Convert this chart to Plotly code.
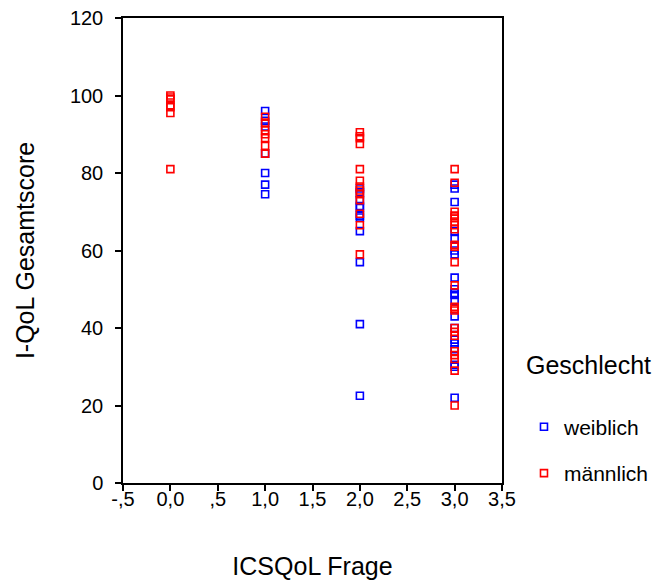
import plotly.graph_objects as go

# ---- data ----
x_ticks = [-0.5, 0, 0.5, 1, 1.5, 2, 2.5, 3, 3.5]
x_tick_labels = ["-,5", "0,0", ",5", "1,0", "1,5", "2,0", "2,5", "3,0", "3,5"]
y_ticks = [0, 20, 40, 60, 80, 100, 120]

# weiblich (blue), by ICSQoL Frage value
w_q1 = [96, 93.5, 92, 85, 80, 77, 74.5]
w_q2 = [76, 75, 73, 71.5, 71, 69, 68.5, 65, 57, 41, 22.5]
w_q3 = [77, 76, 72.5, 65, 63, 60, 59, 53, 50, 49, 48.5, 47, 43, 40, 37, 36,
        34.5, 30.5, 30, 22]

# männlich (red)
m_q0 = [100, 99.5, 99, 97.5, 97, 95.5, 81]
m_q1 = [94.5, 93, 91, 90, 89, 87, 85]
m_q2 = [90.5, 89.5, 89, 87.5, 81, 78, 76.5, 75.5, 74.5, 73, 69.5, 66.5, 59]
m_q3 = [81, 77.5, 70, 69, 68.5, 67.5, 66.5, 65.5, 61.5, 61, 57, 51, 45.5, 45,
        44.5, 40, 39, 38, 34, 33, 32, 29, 20]

w_x = [1] * len(w_q1) + [2] * len(w_q2) + [3] * len(w_q3)
w_y = w_q1 + w_q2 + w_q3
m_x = [0] * len(m_q0) + [1] * len(m_q1) + [2] * len(m_q2) + [3] * len(m_q3)
m_y = m_q0 + m_q1 + m_q2 + m_q3

FONT = "Liberation Sans, Arial, sans-serif"

fig = go.Figure()
fig.add_trace(go.Scatter(
    x=w_x, y=w_y, mode="markers", name="weiblich", legendgroup="w",
    marker=dict(symbol="square-open", size=7, color="#0000FF",
                line=dict(width=1.6, color="#0000FF")),
))
fig.add_trace(go.Scatter(
    x=m_x, y=m_y, mode="markers", name="männlich", legendgroup="m",
    marker=dict(symbol="square-open", size=7, color="#FF0000",
                line=dict(width=1.6, color="#FF0000")),
))

axis_common = dict(
    showline=True, linecolor="black", linewidth=1.5, mirror=True,
    ticks="outside", ticklen=6, tickwidth=1.5, tickcolor="black",
    showgrid=False, zeroline=False, automargin=False,
    tickfont=dict(family=FONT, size=20, color="black"),
)

fig.update_layout(
    width=666, height=586,
    margin=dict(l=123, r=164, t=18, b=103),
    paper_bgcolor="white", plot_bgcolor="white",
    font=dict(family=FONT, color="black"),
    xaxis=dict(
        range=[-0.5, 3.5], tickvals=x_ticks, ticktext=x_tick_labels,
        title=dict(text="ICSQoL Frage", font=dict(family=FONT, size=25),
                   standoff=49),
        ticklabelstandoff=-9,
        **axis_common,
    ),
    yaxis=dict(
        range=[0, 120], tickvals=y_ticks,
        title=dict(text="I-QoL Gesamtscore", font=dict(family=FONT, size=25),
                   standoff=28),
        ticklabelstandoff=8,
        **axis_common,
    ),
    legend=dict(
        title=dict(text="Geschlecht<br> ", font=dict(family=FONT, size=25)),
        font=dict(family=FONT, size=21),
        x=1.058, xanchor="left", y=0.304, yanchor="top",
        traceorder="grouped", tracegroupgap=16,
        bgcolor="rgba(0,0,0,0)",
    ),
)

fig.write_html("out.html")
